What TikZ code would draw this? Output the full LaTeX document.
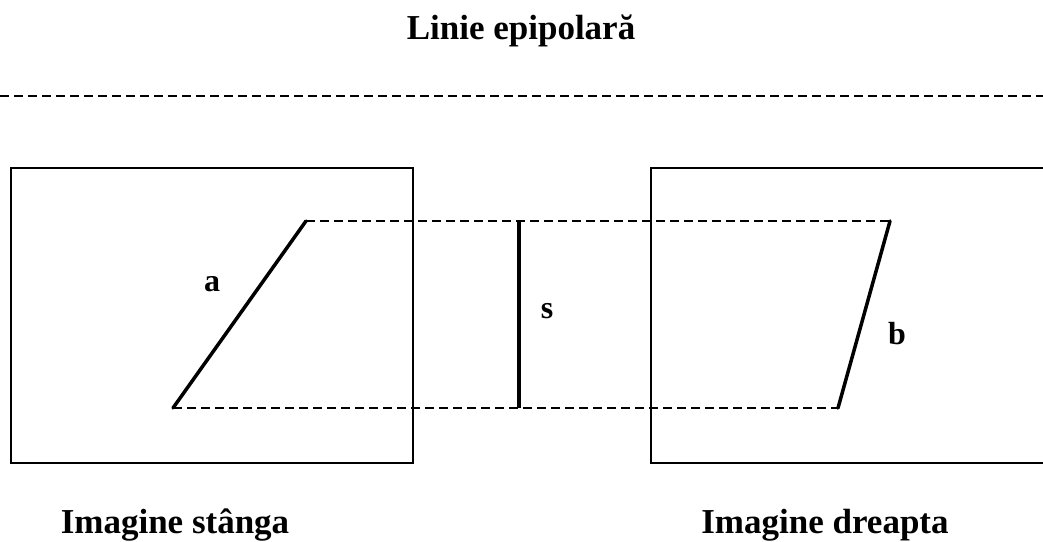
\documentclass[tikz,border=0pt]{standalone}
\usepackage{fontspec}
\setmainfont{Liberation Serif}

\begin{document}
\begin{tikzpicture}[x=1pt, y=-1pt,
    frame/.style={line width=2pt},
    epiline/.style={line width=2pt, dash pattern=on 9pt off 5pt},
    seg/.style={line width=3.5pt, line cap=round, line join=round},
    caption/.style={font=\bfseries\fontsize{35}{40}\selectfont, inner sep=0pt, anchor=base},
    segname/.style={font=\bfseries\fontsize{32}{36}\selectfont, inner sep=0pt}]
  \useasboundingbox (0,0) rectangle (1043,541);

  \node[caption] (title) at (521,39) {Linie epipolară};
  \coordinate (epl) at (0,96);
  \coordinate (epr) at (1043,96);
  \draw[epiline] (epl) -- (epr);

  % left and right image frames
  \coordinate (ltl) at (11,168);
  \coordinate (lbr) at (413,463);
  \draw[frame] (ltl) rectangle (lbr);
  \coordinate (rtl) at (651,168);
  \coordinate (rbl) at (651,463);
  \draw[frame] (1043,168) -- (rtl) -- (rbl) -- (1043,463);

  % segment ends
  \coordinate (a1) at (173,408);
  \coordinate (a2) at (306,221);
  \coordinate (b1) at (838,408);
  \coordinate (b2) at (890,221);
  \coordinate (s1) at (519,408);
  \coordinate (s2) at (519,221);

  \draw[epiline] (a2) -- (b2);
  \draw[epiline] (a1) -- (b1);
  \draw[seg] (a1) -- (a2);
  \draw[seg] (b1) -- (b2);
  \draw[seg, line cap=butt] (s1) -- (s2);

  \node[segname] (la) at (212,284) {a};
  \node[segname] (ls) at (547,311) {s};
  \node[segname] (lb) at (897,334) {b};

  \node[caption] (left)  at (175,533) {Imagine stânga};
  \node[caption] (right) at (825,533) {Imagine dreapta};
\end{tikzpicture}
\end{document}
